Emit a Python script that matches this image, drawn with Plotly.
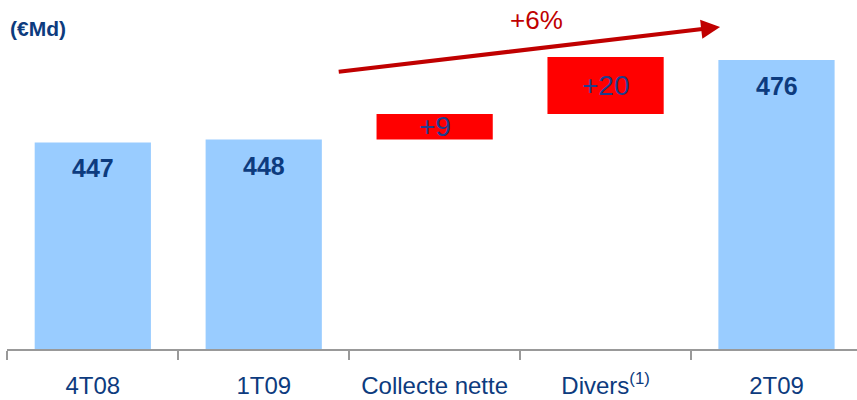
import plotly.graph_objects as go

# Assets under management bridge, in billions of euros
categories = ["4T08", "1T09", "Collecte nette", "Divers<sup>(1)</sup>", "2T09"]
totals = [447, 448, None, None, 476]          # stock levels
steps = [None, None, 9, 20, None]              # increments
step_labels = ["", "", "+9", "+20", ""]
growth_label = "+6%"
unit_label = "(€Md)"

FONT = "Liberation Sans Narrow, Arial Narrow, Liberation Sans, Arial, sans-serif"
NAVY = "#0d3b7e"

# running level before each increment
bases = []
level = None
for t, s in zip(totals, steps):
    if t is not None:
        level = t
        bases.append(None)
    else:
        bases.append(level)
        level = level + s

fig = go.Figure()
fig.add_trace(go.Bar(
    x=categories, y=totals, width=0.68,
    marker=dict(color="#99ccff", line=dict(width=0)),
    hoverinfo="skip",
))
fig.add_trace(go.Bar(
    x=categories, y=steps, base=bases, width=0.68,
    marker=dict(color="#ff0000", line=dict(width=0)),
    hoverinfo="skip",
))

annotations = []
for i, t in enumerate(totals):
    if t is not None:
        annotations.append(dict(
            x=i, y=t, xref="x", yref="y", text=f"<b>{t}</b>", showarrow=False,
            yanchor="middle", yshift=-26,
            font=dict(family="Liberation Sans, Arial, sans-serif", size=25, color=NAVY),
        ))
for i, s in enumerate(steps):
    if s is not None:
        annotations.append(dict(
            x=i, y=bases[i] + s / 2, xref="x", yref="y", text=step_labels[i],
            showarrow=False, yanchor="middle",
            font=dict(family=FONT, size=28, color="#1f3d8c"),
        ))

# growth arrow spanning the increments
annotations.append(dict(
    x=3.67, y=487.6, ax=1.43, ay=471.8, xref="x", yref="y", axref="x", ayref="y",
    text="", showarrow=True, arrowhead=2, arrowsize=0.95, arrowwidth=4,
    arrowcolor="#c00000",
))
annotations.append(dict(
    x=2.595, y=490.0, xref="x", yref="y", text=growth_label, showarrow=False,
    yanchor="middle", font=dict(family=FONT, size=26, color="#c00000"),
))
# unit label in the top-left corner
annotations.append(dict(
    x=0, y=1, xref="paper", yref="paper", xshift=1, yshift=-28,
    text=f"<b>{unit_label}</b>", showarrow=False, xanchor="left", yanchor="middle",
    font=dict(family=FONT, size=21, color=NAVY),
))

fig.update_layout(
    width=857, height=400,
    margin=dict(l=7, r=0, t=0, b=51),
    paper_bgcolor="white", plot_bgcolor="white",
    barmode="overlay", showlegend=False,
    annotations=annotations,
    xaxis=dict(
        type="category", range=[-0.502, 4.471],
        tickson="boundaries", ticks="outside", ticklen=9, tickwidth=2, tickcolor="#999999",
        ticklabelstandoff=14,
        showline=True, linecolor="#999999", linewidth=2, showgrid=False, zeroline=False,
        tickfont=dict(family=FONT, size=24, color=NAVY),
    ),
    yaxis=dict(range=[374.3, 497.1], visible=False, showgrid=False, zeroline=False),
)

fig.write_html("out.html")
